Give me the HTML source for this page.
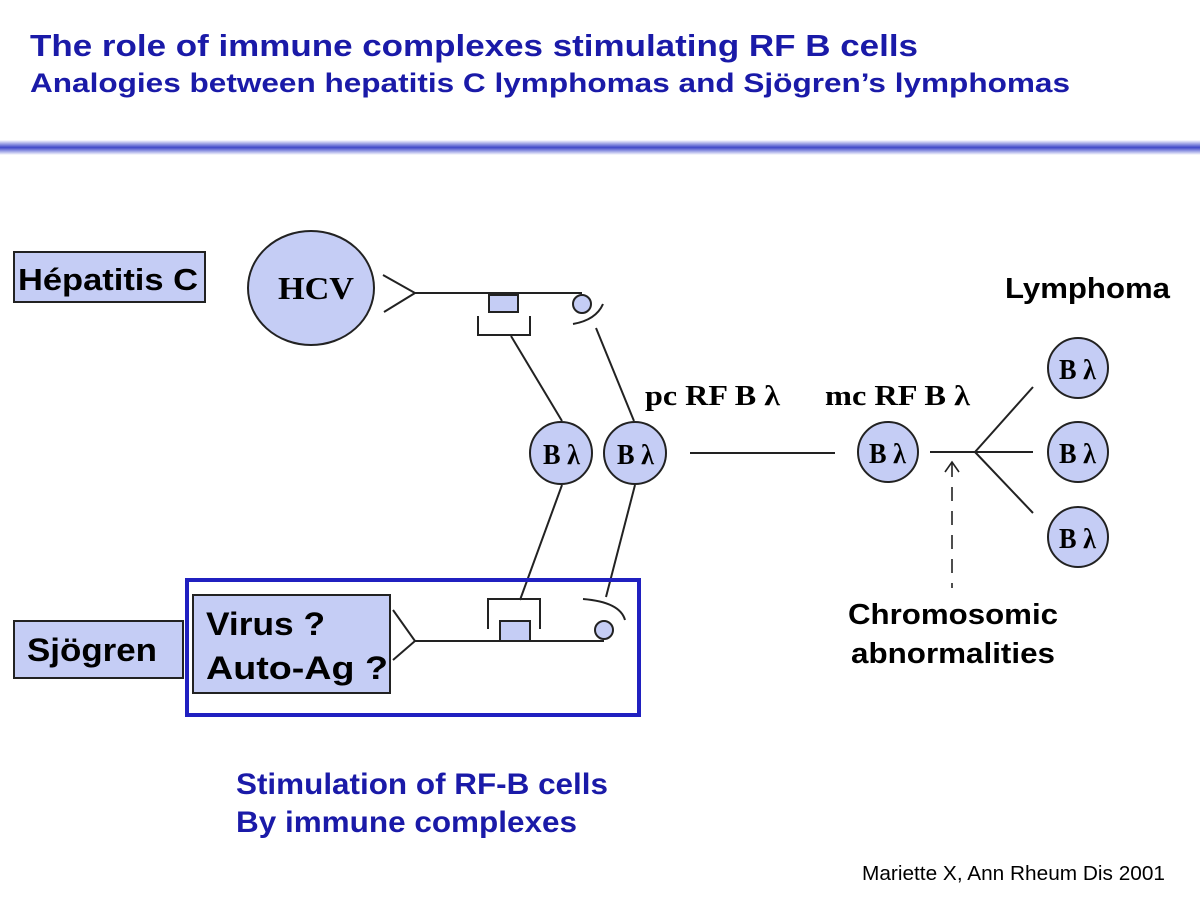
<!DOCTYPE html>
<html><head><meta charset="utf-8"><style>
html,body{margin:0;padding:0;background:#fff;}
svg{display:block}
.s{font-family:"Liberation Sans",sans-serif;font-weight:bold}
.r{font-family:"Liberation Serif",serif;font-weight:bold}
</style></head><body>
<svg width="1200" height="898" viewBox="0 0 1200 898" xmlns="http://www.w3.org/2000/svg">
<defs>
<linearGradient id="bd" x1="0" y1="0" x2="0" y2="1">
<stop offset="0" stop-color="#fff"/><stop offset="0.3" stop-color="#8a90e0"/><stop offset="0.5" stop-color="#4048c8"/><stop offset="0.7" stop-color="#8a90e0"/><stop offset="1" stop-color="#fff"/>
</linearGradient>
</defs>
<text x="30" y="56" class="s" font-size="31" fill="#1a1aa8" textLength="888" lengthAdjust="spacingAndGlyphs">The role of immune complexes stimulating RF B cells</text>
<text x="30" y="92" class="s" font-size="27" fill="#1a1aa8" textLength="1040" lengthAdjust="spacingAndGlyphs">Analogies between hepatitis C lymphomas and Sjögren’s lymphomas</text>
<rect x="0" y="140" width="1200" height="15" fill="url(#bd)"/>

<g stroke="#222" stroke-width="2" fill="none">
<rect x="14" y="252" width="191" height="50" fill="#c5cdf5"/>
<ellipse cx="311" cy="288" rx="63" ry="57" fill="#c5cdf5"/>
<polyline points="383,275 415,293 384,312"/>
<line x1="415" y1="293" x2="582" y2="293"/>
<rect x="489" y="295" width="29" height="17" fill="#c5cdf5"/>
<polyline points="478,316 478,335 530,335 530,316"/>
<circle cx="582" cy="304" r="9" fill="#c5cdf5"/>
<path d="M573,324 Q596,320 603,304"/>
<line x1="511" y1="336" x2="562" y2="421"/>
<line x1="596" y1="328" x2="634" y2="421"/>
<circle cx="561" cy="453" r="31" fill="#c5cdf5"/>
<circle cx="635" cy="453" r="31" fill="#c5cdf5"/>
<line x1="562" y1="485" x2="520" y2="600"/>
<line x1="635" y1="485" x2="606" y2="597"/>
<line x1="690" y1="453" x2="835" y2="453"/>
<circle cx="888" cy="452" r="30" fill="#c5cdf5"/>
<line x1="930" y1="452" x2="975" y2="452"/>
<line x1="975" y1="452" x2="1033" y2="387"/>
<line x1="975" y1="452" x2="1033" y2="452"/>
<line x1="975" y1="452" x2="1033" y2="513"/>
<circle cx="1078" cy="368" r="30" fill="#c5cdf5"/>
<circle cx="1078" cy="452" r="30" fill="#c5cdf5"/>
<circle cx="1078" cy="537" r="30" fill="#c5cdf5"/>
<line x1="952" y1="463" x2="952" y2="588" stroke-dasharray="14,10" stroke-width="1.6"/>
<polyline points="945,472 952,462 959,472" stroke-width="1.6"/>
<rect x="187" y="580" width="452" height="135" stroke="#2020c0" stroke-width="4"/>
<rect x="193" y="595" width="197" height="98" fill="#c5cdf5"/>
<rect x="14" y="621" width="169" height="57" fill="#c5cdf5"/>
<polyline points="393,610 415,641 393,660"/>
<line x1="415" y1="641" x2="604" y2="641"/>
<rect x="500" y="621" width="30" height="20" fill="#c5cdf5"/>
<polyline points="488,629 488,599 540,599 540,629"/>
<circle cx="604" cy="630" r="9" fill="#c5cdf5"/>
<path d="M583,599 Q620,602 625,620"/>
</g>
<g fill="#000">
<text x="18" y="290" class="s" font-size="31" textLength="180" lengthAdjust="spacingAndGlyphs">Hépatitis C</text>
<text x="278" y="299" class="r" font-size="32" textLength="76" lengthAdjust="spacingAndGlyphs">HCV</text>
<text x="543" y="464" class="r" font-size="28" textLength="37" lengthAdjust="spacingAndGlyphs">B λ</text>
<text x="617" y="464" class="r" font-size="28" textLength="37" lengthAdjust="spacingAndGlyphs">B λ</text>
<text x="869" y="463" class="r" font-size="28" textLength="37" lengthAdjust="spacingAndGlyphs">B λ</text>
<text x="1059" y="379" class="r" font-size="28" textLength="37" lengthAdjust="spacingAndGlyphs">B λ</text>
<text x="1059" y="463" class="r" font-size="28" textLength="37" lengthAdjust="spacingAndGlyphs">B λ</text>
<text x="1059" y="548" class="r" font-size="28" textLength="37" lengthAdjust="spacingAndGlyphs">B λ</text>
<text x="645" y="405" class="r" font-size="28" textLength="135" lengthAdjust="spacingAndGlyphs">pc RF B λ</text>
<text x="825" y="405" class="r" font-size="28" textLength="145" lengthAdjust="spacingAndGlyphs">mc RF B λ</text>
<text x="1005" y="298" class="s" font-size="29" textLength="165" lengthAdjust="spacingAndGlyphs">Lymphoma</text>
<text x="848" y="624" class="s" font-size="29" textLength="210" lengthAdjust="spacingAndGlyphs">Chromosomic</text>
<text x="851" y="663" class="s" font-size="29" textLength="204" lengthAdjust="spacingAndGlyphs">abnormalities</text>
<text x="206" y="635" class="s" font-size="32" textLength="119" lengthAdjust="spacingAndGlyphs">Virus ?</text>
<text x="206" y="679" class="s" font-size="32" textLength="182" lengthAdjust="spacingAndGlyphs">Auto-Ag ?</text>
<text x="27" y="661" class="s" font-size="32" textLength="130" lengthAdjust="spacingAndGlyphs">Sjögren</text>
<text x="862" y="880" font-family="Liberation Sans,sans-serif" font-size="20" textLength="303" lengthAdjust="spacingAndGlyphs">Mariette X, Ann Rheum Dis 2001</text>
</g>
<text x="236" y="794" class="s" font-size="30" fill="#1a1aa8" textLength="372" lengthAdjust="spacingAndGlyphs">Stimulation of RF-B cells</text>
<text x="236" y="832" class="s" font-size="30" fill="#1a1aa8" textLength="341" lengthAdjust="spacingAndGlyphs">By immune complexes</text>
</svg>
</body></html>
